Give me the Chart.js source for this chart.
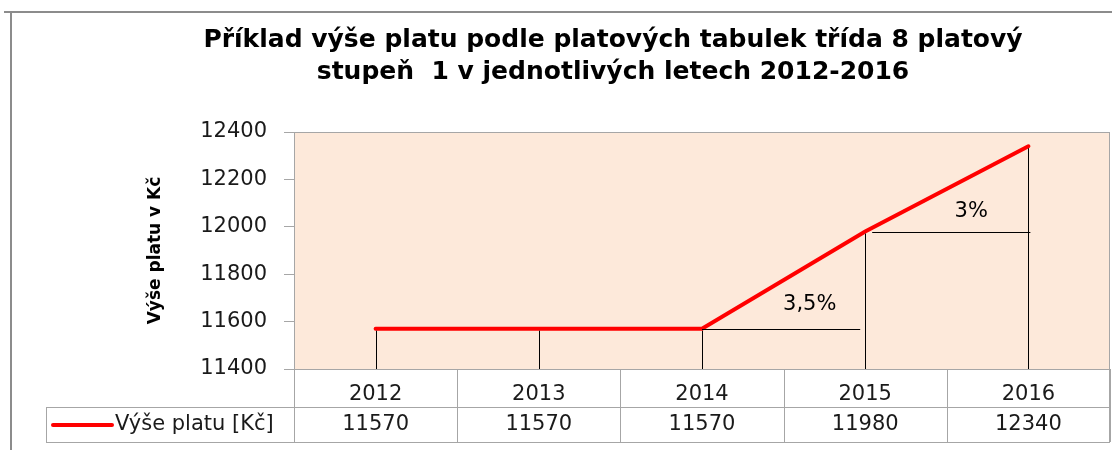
<!DOCTYPE html>
<html>
<head>
<meta charset="utf-8">
<script src="https://cdn.jsdelivr.net/npm/chart.js@4.4.1/dist/chart.umd.min.js"></script>
<style>
  html, body { margin: 0; padding: 0; background: #fff; overflow: hidden; }
  #wrap { width: 1112px; height: 450px; }
</style>
</head>
<body>
<div id="wrap"><canvas id="myChart" width="1112" height="450"></canvas></div>
<script>
// data
const years = ['2012', '2013', '2014', '2015', '2016'];
const salary = [11570, 11570, 11570, 11980, 12340];
const yTicks = [11400, 11600, 11800, 12000, 12200, 12400];
const growthFrom = [2, 3];          // index of year the raise starts from
const growthLabels = ['3,5%', '3%'];
const seriesName = 'Výše platu [Kč]';

const textFont = "'DejaVu Sans', Verdana, sans-serif";
const boldFont = "'DejaVu Sans', 'Open Sans', sans-serif";
const gridGray = '#A6A6A6';
const textSize = 21;

// background, frame, drop lines, raise markers and the data table
const excelLook = {
  id: 'excelLook',
  beforeDraw(chart) {
    const { ctx, chartArea: a } = chart;
    ctx.save();
    ctx.fillStyle = '#FDE9DA';
    ctx.fillRect(a.left, a.top, a.right - a.left, a.bottom - a.top);
    ctx.restore();
  },
  afterDatasetsDraw(chart) {
    const { ctx, chartArea: a, scales: { x, y } } = chart;
    ctx.save();
    // drop lines
    ctx.strokeStyle = '#000';
    ctx.lineWidth = 1;
    salary.forEach((v, i) => {
      const px = Math.round(x.getPixelForValue(i)) + 0.5;
      ctx.beginPath();
      ctx.moveTo(px, y.getPixelForValue(v) + 2);
      ctx.lineTo(px, a.bottom);
      ctx.stroke();
    });
    // horizontal markers for the raises
    ctx.font = textSize + 'px ' + textFont;
    ctx.fillStyle = '#000';
    ctx.textAlign = 'center';
    ctx.textBaseline = 'middle';
    growthFrom.forEach((i, k) => {
      const x0 = x.getPixelForValue(i);
      const x1 = x.getPixelForValue(i + 1);
      const py = Math.round(y.getPixelForValue(salary[i])) + 0.5;
      ctx.beginPath();
      ctx.moveTo(k === 0 ? x0 : x0 + 7, py);
      ctx.lineTo(k === 0 ? x1 - 5 : x1 + 2, py);
      ctx.stroke();
      ctx.fillText(growthLabels[k], x0 + (x1 - x0) * (k === 0 ? 0.66 : 0.65), py - (k === 0 ? 25 : 21));
    });
    ctx.restore();
  },
  afterDraw(chart) {
    const { ctx, chartArea: a, scales: { x } } = chart;
    const step = x.getPixelForValue(1) - x.getPixelForValue(0);
    const row1 = 407, row2 = 442, legLeft = 46;
    ctx.save();
    // outer frame
    ctx.strokeStyle = '#8C8C8C';
    ctx.lineWidth = 2;
    ctx.beginPath();
    ctx.moveTo(4, 12); ctx.lineTo(1112, 12);
    ctx.moveTo(11, 12); ctx.lineTo(11, 450);
    ctx.stroke();
    // plot border
    ctx.lineWidth = 1;
    ctx.strokeStyle = gridGray;
    ctx.beginPath();
    ctx.moveTo(a.left, a.top + 0.5); ctx.lineTo(a.right, a.top + 0.5);
    ctx.moveTo(a.right - 0.5, a.top); ctx.lineTo(a.right - 0.5, row2);
    ctx.moveTo(a.left, a.bottom + 0.5); ctx.lineTo(a.right, a.bottom + 0.5);
    // table lines
    for (let i = 0; i <= years.length; i++) {
      const bx = Math.round(x.getPixelForValue(i) - step / 2) + 0.5;
      ctx.moveTo(bx, i === 0 ? a.top : a.bottom); ctx.lineTo(bx, row2);
    }
    ctx.moveTo(legLeft, row1 + 0.5); ctx.lineTo(a.right, row1 + 0.5);
    ctx.moveTo(legLeft, row2 + 0.5); ctx.lineTo(a.right, row2 + 0.5);
    ctx.moveTo(legLeft + 0.5, row1); ctx.lineTo(legLeft + 0.5, row2);
    ctx.stroke();
    // legend key
    const my = (row1 + row2) / 2 + 0.5;
    ctx.strokeStyle = '#FF0000';
    ctx.lineWidth = 4;
    ctx.lineCap = 'round';
    ctx.beginPath();
    ctx.moveTo(53, my); ctx.lineTo(112, my);
    ctx.stroke();
    ctx.font = textSize + 'px ' + textFont;
    ctx.fillStyle = '#1a1a1a';
    ctx.textBaseline = 'middle';
    ctx.textAlign = 'left';
    ctx.fillText(seriesName, 115, my);
    ctx.textAlign = 'center';
    salary.forEach((v, i) => ctx.fillText(String(v), x.getPixelForValue(i), my));
    ctx.restore();
  }
};

new Chart(document.getElementById('myChart'), {
  type: 'line',
  data: {
    labels: years,
    datasets: [{
      label: seriesName,
      data: salary,
      borderColor: '#FF0000',
      borderWidth: 4,
      pointRadius: 0,
      tension: 0,
      borderCapStyle: 'round'
    }]
  },
  options: {
    responsive: false,
    animation: false,
    devicePixelRatio: 1,
    layout: { padding: { left: 116, right: 2, top: 0, bottom: 0 } },
    plugins: {
      legend: { display: false },
      tooltip: { enabled: false },
      title: {
        display: true,
        text: ['Příklad výše platu podle platových tabulek třída 8 platový',
               'stupeň  1 v jednotlivých letech 2012-2016'],
        color: '#000',
        font: { family: boldFont, size: 25, weight: 'bold', lineHeight: 1.28 },
        padding: { top: 24, bottom: 44 }
      }
    },
    scales: {
      x: {
        offset: true,
        grid: { display: false },
        border: { display: false },
        ticks: { color: '#1a1a1a', font: { family: textFont, size: textSize }, padding: 5, maxRotation: 0 },
        afterFit(scale) { scale.height = 81; }
      },
      y: {
        min: 11400,
        max: 12400,
        afterBuildTicks(scale) { scale.ticks = yTicks.map(v => ({ value: v })); },
        grid: { drawOnChartArea: false, drawTicks: true, tickLength: 10, color: gridGray },
        border: { display: true, color: gridGray },
        ticks: {
          color: '#1a1a1a',
          font: { family: textFont, size: textSize },
          padding: 17,
          callback: v => String(v)
        },
        title: {
          display: true,
          text: 'Výše platu v Kč',
          color: '#000',
          font: { family: boldFont, size: 17, weight: 'bold' },
          padding: { top: 29, bottom: 0 }
        },
        afterFit(scale) { scale.width = 294 - 116; }
      }
    }
  },
  plugins: [excelLook]
});
</script>
</body>
</html>
